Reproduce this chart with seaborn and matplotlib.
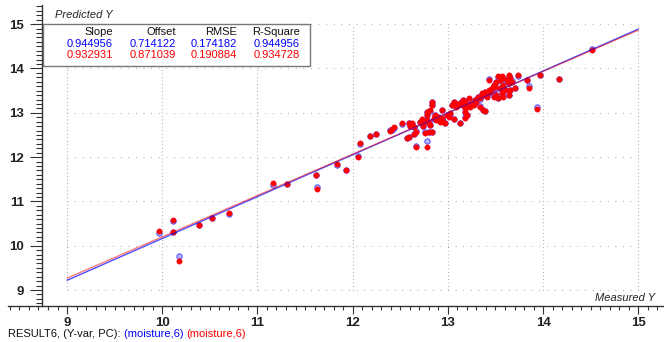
import matplotlib
matplotlib.use("Agg")
import matplotlib.pyplot as plt
from matplotlib.patches import Rectangle
from matplotlib.ticker import MultipleLocator
from matplotlib import font_manager
import numpy as np
import pandas as pd
import seaborn as sns

# Measured reference values and the two sets of predictions
measured = [
    9.97, 10.11, 10.11, 10.18, 10.39, 10.52, 10.70,
    11.16, 11.31, 11.62, 11.63, 11.84, 11.93,
    12.06, 12.08, 12.18, 12.24,
    12.39, 12.41, 12.43, 12.52, 12.59, 12.62, 12.60, 12.64, 12.66, 12.64, 12.59, 12.67, 12.57,
    12.71, 12.73, 12.74, 12.74, 12.76, 12.80, 12.78, 12.83,
    12.78, 12.78, 12.81, 12.83, 12.83, 12.78, 12.80, 12.81,
    12.85, 12.87, 12.88, 12.90, 12.92, 12.94, 12.95, 12.97, 12.94,
    12.99, 13.01, 13.02, 13.04, 13.06, 13.08, 13.09, 13.11, 13.13, 13.15, 13.16, 13.18, 13.20, 13.22,
    13.06, 13.13, 13.18, 13.20, 13.18,
    13.16, 13.18, 13.15, 13.20, 13.22, 13.23, 13.25, 13.18,
    13.29, 13.27, 13.30, 13.32, 13.34, 13.36, 13.37, 13.39, 13.41, 13.43, 13.44, 13.46, 13.48, 13.50, 13.51,
    13.34, 13.37, 13.39, 13.43,
    13.53, 13.55, 13.57, 13.58, 13.62, 13.64, 13.65, 13.67, 13.64, 13.58, 13.55, 13.60, 13.57, 13.51,
    13.48, 13.53, 13.58, 13.64, 13.65, 13.71,
    13.74, 13.83, 13.85, 13.97, 13.94, 14.17, 14.51,
]

predicted_blue = [
    10.28, 10.55, 10.30, 9.76, 10.46, 10.63, 10.72,
    11.36, 11.39, 11.59, 11.33, 11.83, 11.72,
    12.02, 12.30, 12.47, 12.52,
    12.61, 12.62, 12.66, 12.75, 12.77, 12.75, 12.71, 12.68, 12.58, 12.53, 12.45, 12.24, 12.44,
    12.79, 12.84, 12.75, 12.71, 12.57, 12.56, 12.36, 12.57,
    12.94, 13.01, 13.05, 13.17, 13.24, 12.83, 12.77, 12.73,
    12.87, 12.94, 12.85, 12.90, 12.81, 12.87, 12.81, 12.77, 13.06,
    12.96, 12.92, 12.98, 13.17, 13.24, 13.20, 13.15, 13.17, 13.22, 13.24, 13.19, 13.20, 13.15, 13.19,
    12.86, 12.78, 13.01, 12.96, 12.90,
    13.28, 13.26, 13.22, 13.19, 13.32, 13.15, 13.20, 13.11,
    13.28, 13.19, 13.24, 13.35, 13.32, 13.43, 13.41, 13.47, 13.37, 13.50, 13.47, 13.54, 13.62, 13.58, 13.69,
    13.15, 13.07, 13.04, 13.76,
    13.81, 13.73, 13.81, 13.79, 13.75, 13.84, 13.79, 13.71, 13.68, 13.64, 13.56, 13.52, 13.45, 13.41,
    13.37, 13.34, 13.37, 13.41, 13.52, 13.56,
    13.84, 13.75, 13.60, 13.86, 13.12, 13.77, 14.43,
]

predicted_red = [
    10.33, 10.58, 10.31, 9.65, 10.47, 10.62, 10.73,
    11.42, 11.40, 11.60, 11.28, 11.84, 11.71,
    12.01, 12.31, 12.48, 12.53,
    12.60, 12.63, 12.67, 12.76, 12.78, 12.76, 12.70, 12.69, 12.57, 12.52, 12.46, 12.22, 12.43,
    12.80, 12.85, 12.76, 12.70, 12.55, 12.57, 12.22, 12.57,
    12.95, 13.02, 13.06, 13.18, 13.25, 12.84, 12.76, 12.72,
    12.88, 12.95, 12.84, 12.91, 12.80, 12.88, 12.80, 12.76, 13.06,
    12.95, 12.91, 12.99, 13.18, 13.25, 13.21, 13.14, 13.18, 13.21, 13.25, 13.18, 13.21, 13.14, 13.18,
    12.85, 12.76, 13.02, 12.95, 12.89,
    13.29, 13.25, 13.21, 13.18, 13.33, 13.14, 13.21, 13.10,
    13.29, 13.18, 13.25, 13.36, 13.33, 13.44, 13.40, 13.48, 13.36, 13.51, 13.48, 13.55, 13.63, 13.59, 13.70,
    13.14, 13.06, 13.03, 13.74,
    13.82, 13.74, 13.82, 13.78, 13.74, 13.85, 13.78, 13.70, 13.67, 13.63, 13.55, 13.51, 13.44, 13.40,
    13.36, 13.33, 13.36, 13.40, 13.51, 13.55,
    13.85, 13.74, 13.57, 13.85, 13.09, 13.76, 14.42,
]

# Regression statistics for each prediction set
stat_headers = ["Slope", "Offset", "RMSE", "R-Square"]
stats_blue = ["0.944956", "0.714122", "0.174182", "0.944956"]
stats_red = ["0.932931", "0.871039", "0.190884", "0.934728"]

tick_values = [9, 10, 11, 12, 13, 14, 15]
line_range = [9, 15]

caption_parts = ["RESULT6, (Y-var, PC): ", "(moisture,6) ", "(moisture,6)"]

BLUE = "#0000ff"
RED = "#ff0000"
AXIS = "#333333"
GRID = "#9a9a9a"

sns.set_style("white")
plt.rcParams["font.family"] = ["Liberation Sans", "DejaVu Sans"]

# a narrower face for the tick numbers and caption when available
installed = {f.name for f in font_manager.fontManager.ttflist}
NARROW = "Liberation Sans Narrow" if "Liberation Sans Narrow" in installed else "Liberation Sans"

W, H = 664, 342
fig = plt.figure(figsize=(W / 100, H / 100), dpi=100)


def fx(px):
    return px / W


def fy(py):
    return 1 - py / H


ax = fig.add_axes([fx(8), fy(306), fx(664) - fx(8), fy(5) - fy(306)])
ax.set_xlim(8.38, 15.27)
ax.set_ylim(8.639, 15.433)

# dotted grid restricted to the 9..15 square
for v in tick_values:
    ax.plot([9, 15], [v, v], color=GRID, lw=0.8, ls=(0, (0.7, 6.15)), zorder=0)
    ax.plot([v, v], [9, 15], color=GRID, lw=0.8, ls=(0, (0.7, 2.49)), zorder=0)

df = pd.DataFrame({"measured": measured, "blue": predicted_blue, "red": predicted_red})

sns.scatterplot(data=df, x="measured", y="blue", ax=ax, s=15, color="#b4b4ff",
                edgecolor="#5050ff", linewidth=0.7, zorder=2, legend=False)
sns.scatterplot(data=df, x="measured", y="red", ax=ax, s=15, color=RED,
                edgecolor=RED, linewidth=0.3, zorder=3, legend=False)

# fitted lines from the slope/offset statistics
xs = np.array(line_range, dtype=float)
fit_blue = pd.DataFrame({"x": xs, "y": float(stats_blue[0]) * xs + float(stats_blue[1])})
fit_red = pd.DataFrame({"x": xs, "y": float(stats_red[0]) * xs + float(stats_red[1])})
sns.lineplot(data=fit_blue, x="x", y="y", ax=ax, color=BLUE, lw=1.0, alpha=0.7, zorder=4)
sns.lineplot(data=fit_red, x="x", y="y", ax=ax, color=RED, lw=0.9, alpha=0.55, zorder=4)

# axes styling
for side in ("top", "right"):
    ax.spines[side].set_visible(False)
ax.spines["left"].set_position(("data", 8.737))
for side in ("left", "bottom"):
    ax.spines[side].set_color(AXIS)
    ax.spines[side].set_linewidth(1.0)

ax.set_xticks(tick_values)
ax.set_yticks(tick_values)
ax.xaxis.set_minor_locator(MultipleLocator(0.1))
ax.yaxis.set_minor_locator(MultipleLocator(0.1))
ax.tick_params(axis="both", which="both", direction="out", color=AXIS, width=0.8,
               labelsize=9.5, labelcolor="#222222")
ax.tick_params(axis="y", which="major", length=9, pad=4, left=True)
ax.tick_params(axis="y", which="minor", length=4, left=True)
ax.tick_params(axis="x", which="major", length=6, pad=2, bottom=True)
ax.tick_params(axis="x", which="minor", length=3, bottom=True)
for lab in ax.get_xticklabels() + ax.get_yticklabels():
    lab.set_fontfamily([NARROW, "DejaVu Sans"])
    lab.set_fontweight("bold")
ax.set_xlabel("")
ax.set_ylabel("")

# axis titles
fig.text(fx(55), fy(15), "Predicted Y", fontsize=8, style="italic", color="#222222",
         ha="left", va="center")
fig.text(fx(655), fy(298), "Measured Y", fontsize=8, style="italic", color="#222222",
         ha="right", va="center")

# statistics table
box = Rectangle((fx(43), fy(66)), fx(310) - fx(43), fy(24) - fy(66), transform=fig.transFigure,
                facecolor="white", edgecolor="#777777", lw=1.0, zorder=10)
fig.patches.append(box)
col_right = [113, 176, 237, 300]
for xr, head, vb, vr in zip(col_right, stat_headers, stats_blue, stats_red):
    fig.text(fx(xr), fy(32), head, fontsize=8, color="#111111", ha="right", va="center", zorder=11)
    fig.text(fx(xr), fy(44), vb, fontsize=8, color=BLUE, ha="right", va="center", zorder=11)
    fig.text(fx(xr), fy(55), vr, fontsize=8, color=RED, ha="right", va="center", zorder=11)

# caption line, pieces placed one after another
renderer = fig.canvas.get_renderer()
x_px = 8.0
for part, col in zip(caption_parts, ["#111111", BLUE, RED]):
    t = fig.text(fx(x_px), fy(334), part, fontsize=8, color=col, ha="left", va="center",
                 family=[NARROW, "DejaVu Sans"])
    x_px += t.get_window_extent(renderer=renderer).width

fig.savefig("out.png", dpi=100)
